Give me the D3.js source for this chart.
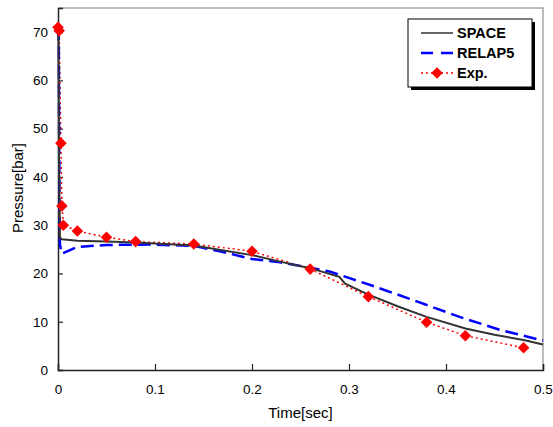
<!DOCTYPE html>
<html>
<head>
<meta charset="utf-8">
<script src="https://cdn.jsdelivr.net/npm/d3@7"></script>
<style>
  body { margin: 0; background: #fff; }
  text { font-family: "Liberation Sans", Arial, sans-serif; }
</style>
</head>
<body>
<svg width="553" height="427"></svg>
<script>
'use strict'

// time [sec] / pressure [bar]
var spaceT = [0, 0.0005, 0.001, 0.002, 0.004, 0.02, 0.05, 0.08, 0.14, 0.2, 0.23, 0.26, 0.29, 0.296, 0.32, 0.35, 0.38, 0.42, 0.45, 0.48, 0.5];
var spaceP = [71, 68, 45, 27.3, 27.1, 26.8, 26.6, 26.4, 25.8, 23.8, 22.4, 21.1, 19.3, 17.9, 15.6, 13.2, 11.0, 8.6, 7.3, 6.2, 5.3];

var relapT = [0, 0.0008, 0.0015, 0.002, 0.004, 0.02, 0.05, 0.095, 0.14, 0.167, 0.2, 0.229, 0.26, 0.28, 0.322, 0.366, 0.414, 0.456, 0.5];
var relapP = [71, 70, 35, 26, 24.1, 25.5, 25.9, 26.0, 25.7, 24.6, 23.0, 22.3, 21.2, 20.4, 17.6, 14.5, 11.0, 8.3, 6.1];

var expT = [0, 0.0012, 0.003, 0.004, 0.0055, 0.02, 0.05, 0.08, 0.14, 0.2, 0.26, 0.32, 0.38, 0.42, 0.48];
var expP = [71, 70.3, 47, 34, 30, 28.8, 27.5, 26.6, 26.1, 24.6, 20.9, 15.2, 9.9, 7.1, 4.6];

var xTicks = [0, 0.1, 0.2, 0.3, 0.4, 0.5];
var yTicks = [0, 10, 20, 30, 40, 50, 60, 70];

var legendNames = ["SPACE", "RELAP5", "Exp."];

var svg = d3.select("svg"),
  margin = { top: 8, right: 10, bottom: 57, left: 58 },
  width = +svg.attr("width") - margin.left - margin.right,
  height = +svg.attr("height") - margin.top - margin.bottom;

var x = d3.scaleLinear().domain([0, 0.5]).range([0, width]),
  y = d3.scaleLinear().domain([0, 75]).range([height, 0]);

function zip(ts, ps) {
  return ts.map(function(t, i) { return [t, ps[i]]; });
}

var g = svg.append("g")
  .attr("transform", "translate(" + margin.left + "," + margin.top + ")");

// grey frame on top and right
g.append("path")
  .attr("d", "M0,0H" + width + "V" + height)
  .attr("fill", "none")
  .attr("stroke", "#a6a6a6")
  .attr("stroke-width", 1.5);

var xAxis = d3.axisBottom(x).tickValues(xTicks).tickSize(-6).tickPadding(14)
  .tickFormat(function(d) { return d === 0 ? "0" : d3.format(".1f")(d); });
var yAxis = d3.axisLeft(y).tickValues(yTicks).tickSize(-5).tickPadding(10);

var gx = g.append("g")
  .attr("transform", "translate(0," + height + ")")
  .call(xAxis);
var gy = g.append("g").call(yAxis);

[gx, gy].forEach(function(a) {
  a.select(".domain").attr("stroke", "#222").attr("stroke-width", 1.5);
  a.selectAll(".tick line").attr("stroke", "#222").attr("stroke-width", 1.2);
  a.selectAll(".tick text").attr("fill", "#000").style("font-size", "13.5px")
    .style("font-family", "'Liberation Sans', Arial, sans-serif");
});

var line = d3.line()
  .x(function(d) { return x(d[0]); })
  .y(function(d) { return y(d[1]); });

var plot = g.append("g");

plot.append("path")
  .datum(zip(expT, expP))
  .attr("d", line)
  .attr("fill", "none")
  .attr("stroke", "#ff0000")
  .attr("stroke-width", 1.5)
  .attr("stroke-dasharray", "2,3");

plot.append("path")
  .datum(zip(relapT, relapP))
  .attr("d", line)
  .attr("fill", "none")
  .attr("stroke", "#0000ff")
  .attr("stroke-width", 2.5)
  .attr("stroke-dasharray", "13,6");

plot.append("path")
  .datum(zip(spaceT, spaceP))
  .attr("d", line)
  .attr("fill", "none")
  .attr("stroke", "#333")
  .attr("stroke-width", 2);

var diamond = d3.symbol().type(d3.symbolDiamond2).size(85);

plot.selectAll(".exp")
  .data(zip(expT, expP))
  .enter()
  .append("path")
  .attr("class", "exp")
  .attr("d", diamond)
  .attr("transform", function(d) { return "translate(" + x(d[0]) + "," + y(d[1]) + ")"; })
  .attr("fill", "#ff0000");

// axis titles
svg.append("text")
  .attr("x", margin.left + width / 2)
  .attr("y", 418)
  .attr("text-anchor", "middle")
  .style("font-size", "15px")
  .text("Time[sec]");

svg.append("text")
  .attr("transform", "translate(23," + (margin.top + 180) + ") rotate(-90)")
  .attr("text-anchor", "middle")
  .style("font-size", "15px")
  .text("Pressure[bar]");

// legend
var lg = svg.append("g").attr("transform", "translate(408,19)");
lg.append("rect").attr("x", 3).attr("y", 3).attr("width", 124).attr("height", 68).attr("fill", "#000");
lg.append("rect").attr("width", 124).attr("height", 68).attr("fill", "#fff")
  .attr("stroke", "#000").attr("stroke-width", 1);

var items = lg.selectAll(".item")
  .data(legendNames)
  .enter()
  .append("g")
  .attr("class", "item")
  .attr("transform", function(d, i) { return "translate(0," + (14 + i * 20) + ")"; });

items.append("line")
  .attr("x1", 13).attr("x2", 45)
  .attr("stroke", function(d, i) { return ["#333", "#0000ff", "#ff0000"][i]; })
  .attr("stroke-width", function(d, i) { return [1.5, 2.5, 1.5][i]; })
  .attr("stroke-dasharray", function(d, i) { return [null, "12,8", "2,3"][i]; });

items.filter(function(d, i) { return i === 2; })
  .append("path")
  .attr("d", diamond)
  .attr("transform", "translate(29,0)")
  .attr("fill", "#ff0000");

items.append("text")
  .attr("x", 49)
  .attr("dy", "0.36em")
  .style("font-size", "14.5px")
  .style("font-weight", "bold")
  .text(function(d) { return d; });
</script>
</body>
</html>
